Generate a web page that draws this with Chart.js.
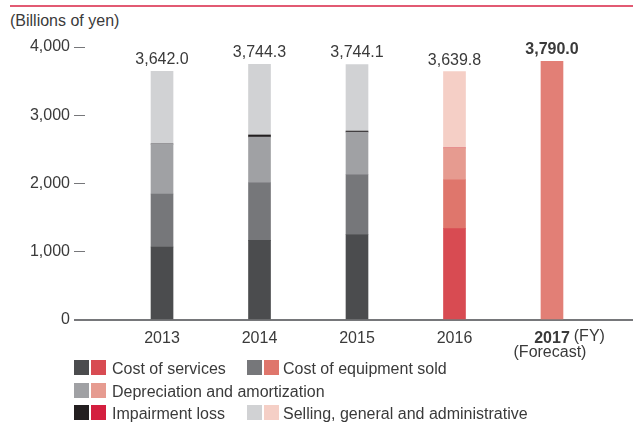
<!DOCTYPE html>
<html>
<head>
<meta charset="utf-8">
<title>Operating expenses</title>
<script src="https://cdn.jsdelivr.net/npm/chart.js@4"></script>
<style>
    body { margin: 0; background: #fff; }
    #wrap { position: relative; width: 633px; height: 422px; font-family: 'Liberation Sans', Arial, sans-serif; color: #3a3a3a; }
    #rule { position: absolute; left: 10px; top: 5px; width: 623px; height: 2px; background: #e25a73; }
    #unit { position: absolute; left: 10px; top: 12px; font-size: 16px; }
    canvas { position: absolute; left: 0; top: 0; }
    .row { position: absolute; left: 0; height: 15px; font-size: 16px; line-height: 15px; }
    .sw { position: absolute; top: 0; width: 15px; height: 15px; }
    .txt { position: absolute; top: 1px; white-space: nowrap; }
</style>
</head>
<body>
<div id="wrap">
    <div id="rule"></div>
    <div id="unit">(Billions of yen)</div>
    <canvas id="myChart" width="633" height="422"></canvas>
    <div id="legend"></div>
</div>
<script>
const years = ['2013', '2014', '2015', '2016', '2017'];
const totals = [3642.0, 3744.3, 3744.1, 3639.8, 3790.0];

// breakdown for the actual years (2013-2016)
const costOfServices = [1070, 1166, 1253, 1340];
const costOfEquipment = [776, 845, 875, 715];
const depreciation = [733, 670, 626, 466];
const impairment = [0, 30, 14, 0];
const sellingGA = [1063.0, 1033.3, 976.1, 1118.8];

// 2017 forecast is a single total
const forecast = [null, null, null, null, 3790.0];

const yTicks = [0, 1000, 2000, 3000, 4000];

const series = [
    { label: 'Cost of services', values: costOfServices, gray: '#4b4c4e', red: '#d84b52' },
    { label: 'Cost of equipment sold', values: costOfEquipment, gray: '#76777a', red: '#df766c' },
    { label: 'Depreciation and amortization', values: depreciation, gray: '#a0a1a4', red: '#e69b90' },
    { label: 'Impairment loss', values: impairment, gray: '#231f20', red: '#d41f3f' },
    { label: 'Selling, general and administrative', values: sellingGA, gray: '#d1d2d4', red: '#f5cfc6' }
];

const textColor = '#3a3a3a';
const axisColor = '#76777a';
const fontFamily = "'Liberation Sans', Arial, sans-serif";

Chart.defaults.font.family = fontFamily;
Chart.defaults.color = textColor;

const datasets = series.map(s => ({
    label: s.label,
    data: s.values.map((v, i) => ({ x: i, y: v })),
    backgroundColor: s.values.map((v, i) => i < 3 ? s.gray : s.red),
    borderWidth: 0,
    barThickness: 22
}));

datasets.push({
    label: 'Forecast',
    data: forecast.map((v, i) => ({ x: i, y: v })).filter(p => p.y !== null),
    backgroundColor: '#e27f76',
    borderWidth: 0,
    barThickness: 22
});

// totals above each bar, plus the extra bits of the 2017 axis label
const barLabels = {
    id: 'barLabels',
    afterDraw(chart) {
        const ctx = chart.ctx;
        const x = chart.scales.x;
        const y = chart.scales.y;
        ctx.save();
        ctx.fillStyle = textColor;
        ctx.textAlign = 'center';
        ctx.textBaseline = 'alphabetic';
        totals.forEach((t, i) => {
            ctx.font = (i === 4 ? 'bold ' : '') + '16px ' + fontFamily;
            const txt = t.toLocaleString('en-US', { minimumFractionDigits: 1, maximumFractionDigits: 1 });
            ctx.fillText(txt, x.getPixelForValue(i), y.getPixelForValue(t) - 7);
        });

        const cx = x.getPixelForValue(4);
        ctx.font = 'bold 16px ' + fontFamily;
        const w = ctx.measureText('2017').width;
        ctx.font = '16px ' + fontFamily;
        ctx.textAlign = 'left';
        ctx.textBaseline = 'middle';
        ctx.fillText('(FY)', cx + w / 2 + 4, 337);
        ctx.textAlign = 'center';
        ctx.fillText('(Forecast)', cx - 2, 353);
        ctx.restore();
    }
};

var chart = new Chart(document.getElementById('myChart'), {
    type: 'bar',
    data: { datasets: datasets },
    plugins: [barLabels],
    options: {
        responsive: false,
        animation: false,
        layout: { padding: { top: 47, right: 0, bottom: 0, left: 0 } },
        plugins: {
            legend: { display: false },
            tooltip: { enabled: false }
        },
        scales: {
            x: {
                type: 'linear',
                stacked: true,
                offset: false,
                min: -0.79,
                max: 4.831,
                afterBuildTicks: (scale) => { scale.ticks = years.map((_, i) => ({ value: i })); },
                afterFit: (scale) => { scale.height = 102; },
                grid: { display: false, drawTicks: false },
                border: { display: true, color: axisColor, width: 2 },
                ticks: {
                    padding: 9,
                    color: textColor,
                    font: (c) => ({ size: 16, weight: c.index === 4 ? 'bold' : 'normal' }),
                    callback: (v) => years[v]
                }
            },
            y: {
                stacked: true,
                min: 0,
                max: 4000,
                afterBuildTicks: (scale) => { scale.ticks = yTicks.map(v => ({ value: v })); },
                afterFit: (scale) => { scale.width = 85; },
                border: { display: false },
                grid: {
                    drawOnChartArea: false,
                    drawTicks: true,
                    tickLength: 11,
                    color: axisColor,
                    lineWidth: (c) => c.tick && c.tick.value === 0 ? 2 : 1
                },
                ticks: {
                    padding: 4,
                    color: textColor,
                    font: { size: 16 },
                    callback: (v) => v.toLocaleString('en-US')
                }
            }
        }
    }
});

// legend with a gray and a red swatch per item
const legendRows = [
    { top: 360, items: [[0, 74, 112], [1, 247, 283]] },
    { top: 383, items: [[2, 74, 112]] },
    { top: 405, items: [[3, 74, 112], [4, 247, 283]] }
];
const legendBox = document.getElementById('legend');
legendRows.forEach(r => {
    const row = document.createElement('div');
    row.className = 'row';
    row.style.top = r.top + 'px';
    r.items.forEach(([idx, swX, txtX]) => {
        const s = series[idx];
        row.insertAdjacentHTML('beforeend',
            `<div class="sw" style="left:${swX}px;background:${s.gray}"></div>` +
            `<div class="sw" style="left:${swX + 17}px;background:${s.red}"></div>` +
            `<div class="txt" style="left:${txtX}px">${s.label}</div>`);
    });
    legendBox.appendChild(row);
});
</script>
</body>
</html>
